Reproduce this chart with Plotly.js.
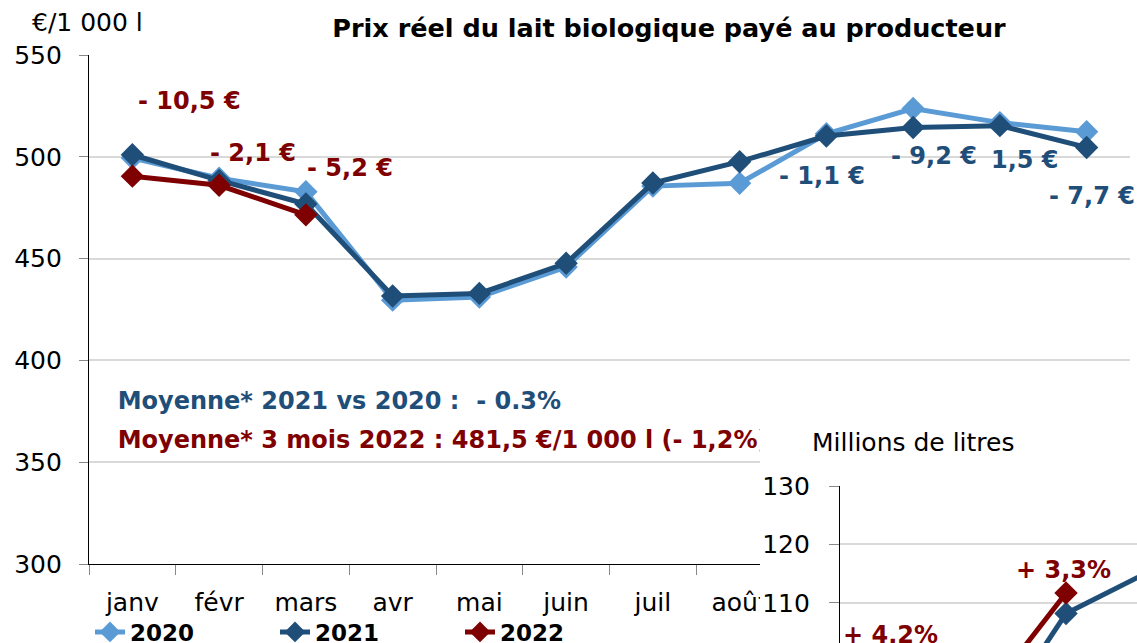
<!DOCTYPE html>
<html>
<head>
<meta charset="utf-8">
<script src="https://cdn.plot.ly/plotly-3.0.1.min.js"></script>
<style>
  html, body { margin: 0; padding: 0; background: #fff; }
  #chart { width: 1137px; height: 643px; }
</style>
</head>
<body>
<div id="chart"></div>
<script>
// prix reel du lait bio, euros / 1 000 l
var mois = ['janv', 'févr', 'mars', 'avr', 'mai', 'juin', 'juil', 'août', 'sept', 'oct', 'nov', 'déc'];
var prix2020 = [499.4, 489.5, 482.8, 429.6, 431.1, 445.9, 485.6, 487.0, 511.3, 523.7, 516.8, 512.3];
var prix2021 = [501.0, 488.4, 476.8, 431.6, 432.9, 447.7, 487.1, 497.6, 510.2, 514.4, 515.3, 504.6];
var prix2022 = [490.5, 486.0, 471.5];

// ecarts affiches sur le graphe
var ecarts2022 = ['- 10,5 €', '- 2,1 €', '- 5,2 €'];
var ecarts2021 = ['- 1,1 €', '- 9,2 €', '1,5 €', '- 7,7 €'];
var moyenne2021 = 'Moyenne* 2021 vs 2020 :  - 0.3%';
var moyenne2022 = 'Moyenne* 3 mois 2022 : 481,5 €/1 000 l (- 1,2%)';

// encart collecte, millions de litres
var moisCollecte = ['janv', 'févr', 'mars', 'avr'];
var collecte2021 = [95.4, 84.9, 108.2, 116.0];
var collecte2022 = [99.4, 91.8, 111.7];
var ecartsCollecte = ['+ 4,2%', '+ 3,3%'];

var bleuClair = '#5B9BD5';
var bleuFonce = '#1F4E79';
var rouge = '#7F0000';
var police = 'DejaVu Sans, Arial, sans-serif';

function serie(x, y, nom, couleur, xa, ya, legende) {
  return {
    x: x, y: y, name: nom, type: 'scatter', mode: 'lines+markers',
    xaxis: xa, yaxis: ya, showlegend: legende,
    line: {color: couleur, width: 5},
    marker: {symbol: 'diamond', size: 18, color: couleur},
    hoverinfo: 'x+y'
  };
}

function texte(t, y, couleur) {
  return {
    x: [-0.17], y: [y], text: [t], mode: 'text', type: 'scatter',
    xaxis: 'x4', yaxis: 'y',
    textposition: 'middle right', showlegend: false, hoverinfo: 'skip',
    textfont: {family: police, size: 24, color: couleur, weight: 'bold'}
  };
}

var data = [
  serie(mois, prix2020, '2020', bleuClair, 'x', 'y', true),
  serie(mois, prix2021, '2021', bleuFonce, 'x', 'y', true),
  serie(mois.slice(0, 3), prix2022, '2022', rouge, 'x', 'y', true),
  texte(moyenne2021, 379.3, bleuFonce),
  texte(moyenne2022, 359.8, rouge),
  // fond blanc de l'encart
  { x: [], y: [], xaxis: 'x2', yaxis: 'y2', type: 'scatter', showlegend: false },
  serie(moisCollecte, collecte2021, '2021', bleuFonce, 'x3', 'y3', false),
  serie(moisCollecte.slice(0, 3), collecte2022, '2022', rouge, 'x3', 'y3', false)
];

var noteFont = {family: police, size: 24, weight: 'bold'};
var annotations = [
  {x: 0.66, y: 527.4, text: ecarts2022[0], font: Object.assign({color: rouge}, noteFont)},
  {x: 1.385, y: 501.9, text: ecarts2022[1], font: Object.assign({color: rouge}, noteFont)},
  {x: 2.51, y: 494.5, text: ecarts2022[2], font: Object.assign({color: rouge}, noteFont)},
  {x: 7.955, y: 490.6, text: ecarts2021[0], font: Object.assign({color: bleuFonce}, noteFont)},
  {x: 9.246, y: 500.4, text: ecarts2021[1], font: Object.assign({color: bleuFonce}, noteFont)},
  {x: 10.29, y: 498.4, text: ecarts2021[2], font: Object.assign({color: bleuFonce}, noteFont)},
  {x: 11.06, y: 480.7, text: ecarts2021[3], font: Object.assign({color: bleuFonce}, noteFont)},
  {x: 0.053, y: 104.5, xref: 'x3', yref: 'y3', text: ecartsCollecte[0], font: Object.assign({color: rouge}, noteFont)},
  {x: 1.967, y: 115.6, xref: 'x3', yref: 'y3', text: ecartsCollecte[1], font: Object.assign({color: rouge}, noteFont)},
  {x: 30 / 1137, y: 1 - 22 / 643, xref: 'paper', yref: 'paper', xanchor: 'left', yanchor: 'middle',
   text: '€/1 000 l', font: {family: police, size: 25, color: '#000'}},
  {x: 810 / 1137, y: 1 - 442 / 643, xref: 'paper', yref: 'paper', xanchor: 'left', yanchor: 'middle',
   text: 'Millions de litres', font: {family: police, size: 25, color: '#000'}}
];
annotations.forEach(function (a) {
  a.showarrow = false;
  if (!a.xref) { a.xref = 'x'; a.yref = 'y'; }
});

var layout = {
  width: 1137, height: 643,
  margin: {l: 0, r: 0, t: 0, b: 0, autoexpand: false},
  paper_bgcolor: '#fff', plot_bgcolor: '#fff',
  font: {family: police, size: 25, color: '#000'},
  title: {
    text: 'Prix réel du lait biologique payé au producteur',
    font: {family: police, size: 25.5, weight: 'bold', color: '#000'},
    xref: 'container', yref: 'container', x: 669 / 1137, y: 1 - 28 / 643,
    xanchor: 'center', yanchor: 'middle'
  },
  xaxis: {
    domain: [89 / 1137, 1130 / 1137], range: [-0.5, 11.5], type: 'category',
    showline: true, linecolor: '#000', linewidth: 1.3,
    ticks: 'outside', tickson: 'boundaries', ticklen: 10, tickcolor: '#888',
    showgrid: false, ticklabelstandoff: 16,
    tickfont: {size: 25}
  },
  xaxis4: {overlaying: 'x', anchor: 'y', range: [-0.5, 11.5], visible: false},
  yaxis: {
    domain: [1 - 564 / 643, 1 - 55 / 643], range: [300, 550], dtick: 50,
    showline: true, linecolor: '#000', linewidth: 1.3,
    ticks: 'outside', ticklen: 9, tickcolor: '#888',
    gridcolor: '#d9d9d9', gridwidth: 1.5, zeroline: false,
    ticklabelstandoff: 12, tickfont: {size: 25}
  },
  xaxis2: {domain: [760 / 1137, 1], anchor: 'y2', visible: false, range: [0, 1]},
  yaxis2: {domain: [0, 1 - 420 / 643], anchor: 'x2', visible: false, range: [0, 1]},
  xaxis3: {
    domain: [840 / 1137, 1], anchor: 'y3', type: 'category', range: [-0.5, 2.785],
    showgrid: false, showline: false, showticklabels: false, zeroline: false
  },
  yaxis3: {
    domain: [0, 1 - 486 / 643], anchor: 'x3', range: [103.16, 130], dtick: 10,
    showline: true, linecolor: '#000', linewidth: 1.3,
    ticks: 'outside', ticklen: 10, tickcolor: '#888',
    gridcolor: '#d9d9d9', gridwidth: 1.5, zeroline: false,
    ticklabelstandoff: 14, tickfont: {size: 25}
  },
  legend: {
    orientation: 'h', x: 90 / 1137, y: 1 - 632 / 643, xanchor: 'left', yanchor: 'middle',
    entrywidth: 140, entrywidthmode: 'pixels', bgcolor: 'rgba(0,0,0,0)',
    borderwidth: 0,
    font: {family: police, size: 23, weight: 'bold', color: '#000'}
  },
  annotations: annotations
};

Plotly.newPlot('chart', data, layout, {displayModeBar: false});
</script>
</body>
</html>
